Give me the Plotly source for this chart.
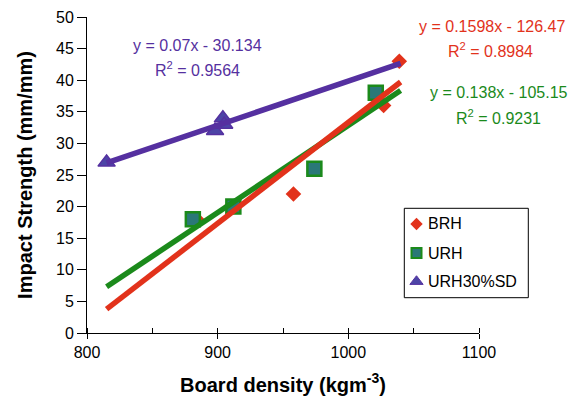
import plotly.graph_objects as go
import numpy as np

# Data
brh_x = [884, 910, 958, 1027, 1039]
brh_y = [18, 20, 22, 36, 43]
urh_x = [881, 912, 974, 1021]
urh_y = [18, 20, 26, 38]
sd_x = [815, 898, 904, 905]
sd_y = [27, 32, 34, 33]

series_names = ["BRH", "URH", "URH30%SD"]

# Trendline equations as printed on the chart
brh_fit = [0.1598, -126.47]
urh_fit = [0.138, -105.15]
sd_fit = [0.07, -30.134]
r2_values = ["0.8984", "0.9231", "0.9564"]
fit_range = [815, 1040]

RED = "#E2321B"
GREEN = "#1B8A1B"
TEAL = "#2A7878"
PURPLE = "#5530A0"
TRI = "#4C44A6"

FONT = "Liberation Sans, Arial, Helvetica, sans-serif"

W, H = 579, 404
L, R, T, B = 87, 100, 17, 71
pw, ph = W - L - R, H - T - B
def px(xpix):
    return (xpix - L) / pw
def py(ypix):
    return (H - B - ypix) / ph

marker_styles = [
    dict(symbol="diamond", size=12, color=RED, line=dict(width=0)),
    dict(symbol="square", size=14, color=TEAL, line=dict(width=2.5, color=GREEN)),
    dict(symbol="triangle-up", size=15, color=TRI, line=dict(width=1.5, color=PURPLE)),
]
legend_styles = [
    dict(symbol="diamond", size=9.5, color=RED, line=dict(width=0)),
    dict(symbol="square", size=10, color=TEAL, line=dict(width=2, color=GREEN)),
    dict(symbol="triangle-up", size=11.5, color=TRI, line=dict(width=1, color=PURPLE)),
]

fig = go.Figure()

for xs_, ys_, name, ms in zip([brh_x, urh_x, sd_x], [brh_y, urh_y, sd_y], series_names, marker_styles):
    fig.add_trace(go.Scatter(x=xs_, y=ys_, mode="markers", name=name, showlegend=False, marker=ms))

xs = np.array(fit_range, dtype=float)
for fit, col in [(urh_fit, GREEN), (brh_fit, RED), (sd_fit, PURPLE)]:
    fig.add_trace(go.Scatter(x=xs, y=fit[0] * xs + fit[1], mode="lines", showlegend=False,
                             line=dict(color=col, width=5.5), hoverinfo="skip"))

# Hand-built legend (Excel style compact box)
leg_left, leg_right, leg_top, leg_bottom = 404.3, 528.3, 208.3, 297.7
leg_rows = [224, 253, 281.5]
fig.add_shape(type="rect", xref="paper", yref="paper",
              x0=px(leg_left), x1=px(leg_right), y0=py(leg_bottom), y1=py(leg_top),
              line=dict(color="black", width=1), fillcolor="white", layer="below")
for name, ms, ry in zip(series_names, legend_styles, leg_rows):
    fig.add_trace(go.Scatter(x=[px(416.5)], y=[py(ry)], xaxis="x2", yaxis="y2", mode="markers",
                             showlegend=False, hoverinfo="skip", marker=ms, cliponaxis=False))
    fig.add_annotation(text=name, x=px(425.5), y=py(ry), xref="paper", yref="paper", showarrow=False,
                       xanchor="left", yanchor="middle", font=dict(size=16, color="black", family=FONT))

def ann(text, x, y, color):
    fig.add_annotation(text=text, x=x, y=y, xref="paper", yref="paper", showarrow=False,
                       xanchor="center", yanchor="middle", font=dict(size=16, color=color, family=FONT))

ann("y = %gx - %g" % (sd_fit[0], -sd_fit[1]), px(197), py(45), PURPLE)
ann("R<sup>2</sup> = " + r2_values[2], px(197), py(69), PURPLE)
ann("y = %gx - %g" % (brh_fit[0], -brh_fit[1]), px(492), py(26), RED)
ann("R<sup>2</sup> = " + r2_values[0], px(491), py(50), RED)
ann("y = %gx - %g" % (urh_fit[0], -urh_fit[1]), px(499), py(92), GREEN)
ann("R<sup>2</sup> = " + r2_values[1], px(498), py(117), GREEN)

fig.update_layout(
    width=W, height=H,
    margin=dict(l=L, r=R, t=T, b=B, autoexpand=False),
    paper_bgcolor="white", plot_bgcolor="white",
    font=dict(family=FONT, size=16, color="black"),
    showlegend=False,
    xaxis=dict(range=[800, 1100], tickvals=[800, 900, 1000, 1100], ticks="outside", ticklen=5,
               tickcolor="black", showline=True, linecolor="black", linewidth=1,
               showgrid=False, zeroline=False,
               minor=dict(tickvals=[800, 850, 900, 950, 1000, 1050, 1100], ticks="inside", ticklen=5, tickcolor="black"),
               tickfont=dict(size=16),
               title=dict(text="<b>Board density (kgm<sup>-3</sup>)</b>", font=dict(size=20), standoff=17)),
    yaxis=dict(range=[0, 50], dtick=5, ticks="outside", ticklen=9, tickcolor="black",
               showline=True, linecolor="black", linewidth=1, showgrid=False, zeroline=False,
               tickfont=dict(size=16),
               title=dict(text="<b>Impact Strength (mm/mm)</b>", font=dict(size=20), standoff=18)),
    xaxis2=dict(range=[0, 1], overlaying="x", visible=False, fixedrange=True),
    yaxis2=dict(range=[0, 1], overlaying="y", visible=False, fixedrange=True),
)

fig.write_html("out.html", config={"displayModeBar": False},
               post_script="document.body.style.margin='0';document.body.style.overflow='hidden';")
